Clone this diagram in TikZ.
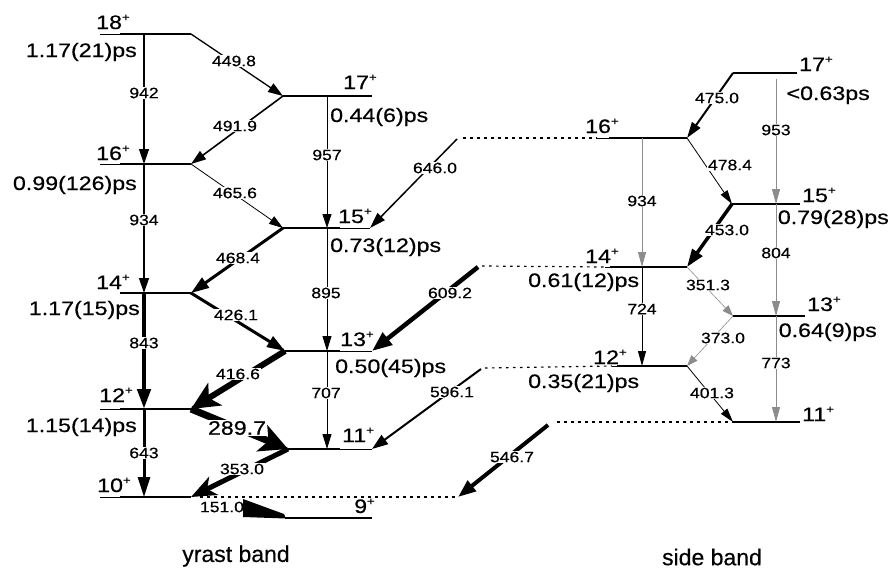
\documentclass[tikz,border=0pt]{standalone}
\usepackage{fontspec}
\setmainfont{Liberation Sans}[FakeBold=0.4]
\newfontfamily\widefont{Liberation Sans}[FakeStretch=1.17,FakeBold=0.5]
\newfontfamily\widerfont{Liberation Sans}[FakeStretch=1.19,FakeBold=0.5]
\usetikzlibrary{arrows.meta}
\definecolor{gline}{gray}{0.55}
\newcommand\smallfnt{\widefont\fontsize{15}{17}\selectfont}
\newcommand\bigfnt{\widerfont\fontsize{19.5}{22}\selectfont}
\newcommand\spinlbl[1]{#1\raisebox{8pt}{\fontsize{11}{11}\selectfont +}}
\tikzset{
  lvl/.style={line width=2pt},
  lvlext/.style={line width=1pt},
  dotl/.style={line width=1.2pt, dash pattern=on 2.5pt off 4.5pt},
  tr/.style n args={3}{line width=#1, -{Triangle[length=#2,width=#3]}},
  trs/.style n args={3}{line width=#1, -{Stealth[length=#2,width=#3,inset=7pt]}},
  tlbl/.style={fill=white, inner sep=1pt, font=\smallfnt},
  tlblbig/.style={fill=white, inner sep=1pt, font=\bigfnt},
  spin/.style={inner sep=0pt, anchor=base west, font=\bigfnt},
  life/.style={inner sep=0pt, font=\bigfnt},
  band/.style={inner sep=0pt, font=\fontsize{23}{26}\selectfont}
}
\begin{document}
\begin{tikzpicture}[x=1pt,y=-1pt]
\useasboundingbox (0,0) rectangle (894,571);
% ---------- level coordinates ----------
% yrast, left column
\coordinate (Y18e) at (100,34); \coordinate (Y18a) at (120,34); \coordinate (Y18b) at (191,34); \coordinate (Y18v) at (144,34);
\coordinate (Y16e) at (100,164); \coordinate (Y16a) at (120,164); \coordinate (Y16b) at (191,164); \coordinate (Y16v) at (144,164);
\coordinate (Y14e) at (120,293); \coordinate (Y14a) at (120,293); \coordinate (Y14b) at (191,293); \coordinate (Y14v) at (144,293);
\coordinate (Y12e) at (100,409); \coordinate (Y12a) at (120,409); \coordinate (Y12b) at (191,409); \coordinate (Y12v) at (144,409);
\coordinate (Y10e) at (100,497); \coordinate (Y10a) at (120,497); \coordinate (Y10b) at (191,497); \coordinate (Y10v) at (144,497);
% yrast, right column
\coordinate (Y17a) at (283,96); \coordinate (Y17b) at (372,96); \coordinate (Y17v) at (327,96);
\coordinate (Y15a) at (283,228); \coordinate (Y15m) at (340,228); \coordinate (Y15b) at (370,228); \coordinate (Y15v) at (327,228);
\coordinate (Y13a) at (285,351); \coordinate (Y13m) at (340,351); \coordinate (Y13b) at (372,351); \coordinate (Y13v) at (327,351);
\coordinate (Y11a) at (288,449); \coordinate (Y11m) at (340,449); \coordinate (Y11b) at (372,449); \coordinate (Y11v) at (327,449);
\coordinate (Y9a) at (285,518); \coordinate (Y9b) at (372,518);
% side band, left column
\coordinate (S16e) at (597,138); \coordinate (S16a) at (609,138); \coordinate (S16b) at (687,138); \coordinate (S16v) at (642,138);
\coordinate (S14e) at (605,267); \coordinate (S14a) at (610,267); \coordinate (S14b) at (687,267); \coordinate (S14v) at (642,267);
\coordinate (S12e) at (612,366); \coordinate (S12a) at (617,366); \coordinate (S12b) at (687,366); \coordinate (S12v) at (642,366);
% side band, right column
\coordinate (S17a) at (733,73); \coordinate (S17b) at (797,73); \coordinate (S17v) at (776,79);
\coordinate (S15a) at (732,204); \coordinate (S15b) at (800,204); \coordinate (S15v) at (776,204);
\coordinate (S13a) at (733,316); \coordinate (S13b) at (805,316); \coordinate (S13v) at (776,316);
\coordinate (S11a) at (733,422); \coordinate (S11b) at (800,422); \coordinate (S11v) at (776,422);
% free ends of the linking transitions
\coordinate (t646) at (457,139); \coordinate (t609) at (478,267); \coordinate (t596) at (481,369); \coordinate (t546) at (548,425);
\coordinate (d646) at (463,138); \coordinate (d609) at (482,266); \coordinate (d596) at (485,368); \coordinate (d546) at (557,422);
\coordinate (d10a) at (200,497); \coordinate (d10b) at (458,497);

% ---------- levels ----------
\foreach \n in {Y18,Y16,Y12,Y10} { \draw[lvlext] (\n e) -- (\n a); }
\foreach \n in {Y18,Y16,Y14,Y12,Y10,Y17,S16,S14,S12,S17,S15,S13,S11} { \draw[lvl] (\n a) -- (\n b); }
\foreach \n in {Y15,Y13,Y11} { \draw[lvl] (\n a) -- (\n m); \draw[lvlext] (\n m) -- (\n b); }
\draw[lvl] (Y9a) -- (Y9b);
\foreach \n in {S16,S14,S12} { \draw[lvlext] (\n e) -- (\n a); }

% ---------- dotted links ----------
\draw[dotl] (d646) -- (S16e);
\draw[dotl] (d609) -- (S14e);
\draw[dotl] (d596) -- (S12e);
\draw[dotl] (d546) -- (S11a);
\draw[dotl] (d10a) -- (d10b);

% ---------- transitions ----------
\draw[tr={1.3pt}{15pt}{10pt}] (Y18v) -- (Y16v);
\draw[tr={1.3pt}{15pt}{10pt}] (Y16v) -- (Y14v);
\draw[tr={4.5pt}{20pt}{13pt}] (Y14v) -- (Y12v);
\draw[tr={3pt}{20pt}{12pt}] (Y12v) -- (Y10v);
\draw[tr={1.3pt}{15pt}{10pt}] (Y18b) -- (Y17a);
\draw[tr={1.6pt}{15pt}{10pt}] (Y17a) -- (Y16b);
\draw[tr={0.8pt}{14pt}{9pt}] (Y16b) -- (Y15a);
\draw[tr={3pt}{18pt}{12pt}] (Y15a) -- (Y14b);
\draw[tr={3pt}{18pt}{12pt}] (Y14b) -- (Y13a);
\draw[trs={6pt}{28pt}{26pt}] (Y13a) -- (Y12b);
\draw[trs={7pt}{28pt}{28pt}] (Y12b) -- (Y11a);
\draw[trs={5pt}{25pt}{20pt}] (Y11a) -- (Y10b);
\draw[tr={0.8pt}{14pt}{9pt}] (Y17v) -- (Y15v);
\draw[tr={1pt}{15pt}{9pt}] (Y15v) -- (Y13v);
\draw[tr={1pt}{15pt}{9pt}] (Y13v) -- (Y11v);
\draw[tr={1.5pt}{16pt}{10pt}] (t646) -- (Y15b);
\draw[tr={4.5pt}{20pt}{15pt}] (t609) -- (Y13b);
\draw[tr={2pt}{16pt}{11pt}] (t596) -- (Y11b);
\draw[tr={4pt}{18pt}{13pt}] (t546) -- (d10b);
\fill (243,499) -- (284,514) -- (286,518.5) -- (243,517) -- cycle;
% side band
\draw[tr={2pt}{16pt}{10pt}] (S17a) -- (S16b);
\draw[tr={0.8pt}{15pt}{8pt}, gline] (S17v) -- (S15v);
\draw[tr={0.8pt}{14pt}{8pt}] (S16b) -- (S15a);
\draw[tr={3.5pt}{18pt}{12pt}] (S15a) -- (S14b);
\draw[tr={0.8pt}{15pt}{8pt}, gline] (S15v) -- (S13v);
\draw[tr={0.8pt}{15pt}{8pt}, gline] (S16v) -- (S14v);
\draw[tr={1pt}{15pt}{8pt}] (S14v) -- (S12v);
\draw[tr={0.6pt}{11pt}{8pt}, gline] (S14b) -- (S13a);
\draw[tr={0.6pt}{11pt}{8pt}, gline] (S13a) -- (S12b);
\draw[tr={0.8pt}{15pt}{8pt}, gline] (S13v) -- (S11v);
\draw[tr={0.8pt}{14pt}{8pt}] (S12b) -- (S11a);

% ---------- transition labels ----------
\node[tlbl] (e942) at (144,93) {942};
\node[tlbl] (e934y) at (144,220) {934};
\node[tlbl] (e843) at (144,343) {843};
\node[tlbl] (e643) at (144,453) {643};
\node[tlbl] (e449) at (234,61) {449.8};
\node[tlbl] (e491) at (235,126) {491.9};
\node[tlbl] (e465) at (235,193) {465.6};
\node[tlbl] (e468) at (238,258) {468.4};
\node[tlbl] (e426) at (236,315) {426.1};
\node[tlbl] (e416) at (238,374) {416.6};
\node[tlblbig] (e289) at (237,428) {289.7};
\node[tlbl] (e353) at (242,469) {353.0};
\node[tlbl, fill=none] (e151) at (222,507) {151.0};
\node[tlbl] (e957) at (327,155) {957};
\node[tlbl] (e895) at (326,293) {895};
\node[tlbl] (e707) at (326,393) {707};
\node[tlbl] (e646) at (435,168) {646.0};
\node[tlbl] (e609) at (450,293) {609.2};
\node[tlbl] (e596) at (452,392) {596.1};
\node[tlbl] (e546) at (512,457) {546.7};
\node[tlbl] (e475) at (717,98) {475.0};
\node[tlbl] (e953) at (776,130) {953};
\node[tlbl] (e934s) at (642,201) {934};
\node[tlbl] (e478) at (730,165) {478.4};
\node[tlbl] (e453) at (727,230) {453.0};
\node[tlbl] (e804) at (776,253) {804};
\node[tlbl] (e724) at (642,309) {724};
\node[tlbl] (e351) at (708,285) {351.3};
\node[tlbl] (e373) at (723,338) {373.0};
\node[tlbl] (e773) at (776,363) {773};
\node[tlbl] (e401) at (712,393) {401.3};

% ---------- spin labels ----------
\node[spin] (j18) at (96,29) {\spinlbl{18}};
\node[spin] (j16) at (96,160) {\spinlbl{16}};
\node[spin] (j14) at (96,289) {\spinlbl{14}};
\node[spin] (j12) at (99,402) {\spinlbl{12}};
\node[spin] (j10) at (97,492) {\spinlbl{10}};
\node[spin] (j17) at (343,89) {\spinlbl{17}};
\node[spin] (j15) at (338,223) {\spinlbl{15}};
\node[spin] (j13) at (340,346) {\spinlbl{13}};
\node[spin] (j11) at (342,442) {\spinlbl{11}};
\node[spin] (j9) at (354,513) {\spinlbl{9}};
\node[spin] (k17) at (799,71) {\spinlbl{17}};
\node[spin] (k16) at (585,133) {\spinlbl{16}};
\node[spin] (k15) at (802,202) {\spinlbl{15}};
\node[spin] (k14) at (585,263) {\spinlbl{14}};
\node[spin] (k13) at (807,311) {\spinlbl{13}};
\node[spin] (k12) at (593,364) {\spinlbl{12}};
\node[spin] (k11) at (802,421) {\spinlbl{11}};

% ---------- lifetimes ----------
\node[life, anchor=base east] (p18) at (137,57) {1.17(21)ps};
\node[life, anchor=base east] (p16) at (137,190) {0.99(126)ps};
\node[life, anchor=base east] (p14) at (140,315) {1.17(15)ps};
\node[life, anchor=base east] (p12) at (137,432) {1.15(14)ps};
\node[life, anchor=base west] (p17) at (330,122) {0.44(6)ps};
\node[life, anchor=base west] (p15) at (330,252) {0.73(12)ps};
\node[life, anchor=base west] (p13) at (335,373) {0.50(45)ps};
\node[life, anchor=base east] (q17) at (870,100) {<0.63ps};
\node[life, anchor=base east] (q15) at (889,224) {0.79(28)ps};
\node[life, anchor=base west] (q14) at (528,287) {0.61(12)ps};
\node[life, anchor=base east] (q13) at (877,337) {0.64(9)ps};
\node[life, anchor=base west] (q12) at (528,388) {0.35(21)ps};

% ---------- band names ----------
\node[band] (yb) at (236,556) {yrast band};
\node[band] (sb) at (712,557) {side band};
\end{tikzpicture}
\end{document}
